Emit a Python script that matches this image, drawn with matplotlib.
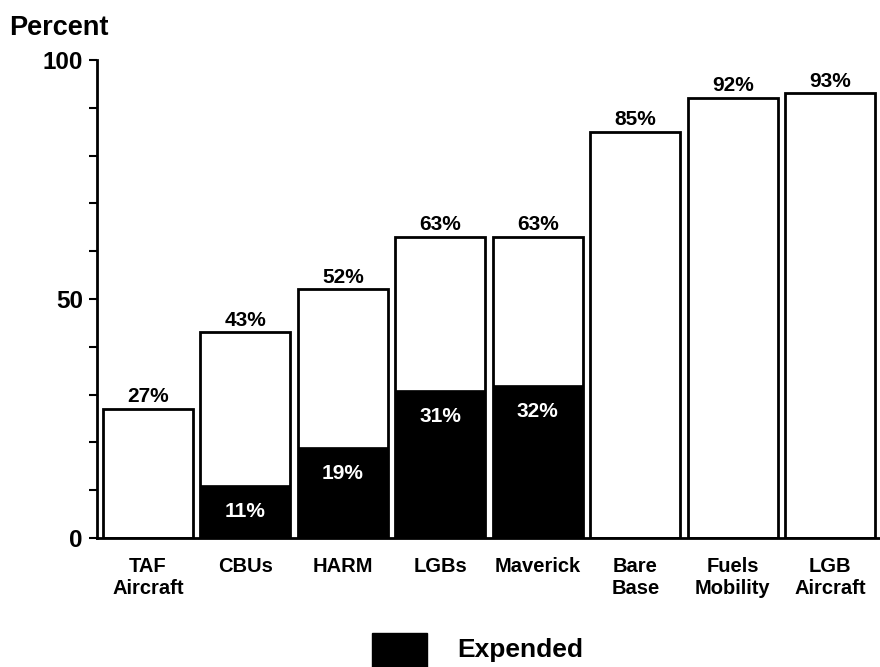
import numpy as np
import matplotlib
matplotlib.use("Agg")
import matplotlib.pyplot as plt
from matplotlib.patches import Rectangle

plt.rcParams['font.family'] = ['Liberation Sans', 'DejaVu Sans']
plt.rcParams['font.weight'] = 'bold'

# munitions / resources available vs expended
categories = ["TAF\nAircraft", "CBUs", "HARM", "LGBs", "Maverick",
              "Bare\nBase", "Fuels\nMobility", "LGB\nAircraft"]
available = [27, 43, 52, 63, 63, 85, 92, 93]
expended = [None, 11, 19, 31, 32, None, None, None]


def main():
    fig = plt.figure(figsize=(8.8, 6.67), dpi=100)
    ax = fig.add_axes([0.110, 0.1934, 0.890, 0.7166])

    x = np.arange(len(categories))
    width = 0.92

    ax.bar(x, available, width, color="white", edgecolor="black", linewidth=2, zorder=2)
    exp_x = [i for i, v in enumerate(expended) if v is not None]
    exp_v = [v for v in expended if v is not None]
    ax.bar(exp_x, exp_v, width, color="black", edgecolor="black", linewidth=0.5, zorder=3)

    for i, v in enumerate(available):
        ax.annotate(f"{v}%", (i, v), xytext=(0, 2), textcoords="offset points",
                    ha="center", va="bottom", fontsize=15, fontweight="bold")
    for i, v in zip(exp_x, exp_v):
        ax.annotate(f"{v}%", (i, v), xytext=(0, -19), textcoords="offset points",
                    ha="center", va="center", fontsize=15, fontweight="bold",
                    color="white", zorder=4)

    ax.set_xlim(-0.523, 7.51)
    ax.set_ylim(0, 100)
    ax.set_yticks(np.arange(0, 101, 10))
    ax.set_yticklabels(["0", "", "", "", "", "50", "", "", "", "", "100"])
    ax.tick_params(axis="y", direction="out", length=6, width=1.5, labelsize=17.5, pad=4)
    ax.set_xticks(x)
    ax.set_xticklabels(categories, fontsize=14.5, fontweight="bold", linespacing=1.2, va="top")
    ax.tick_params(axis="x", length=0, pad=14)
    for lbl in ax.get_yticklabels():
        lbl.set_fontweight("bold")

    for side in ("top", "right"):
        ax.spines[side].set_visible(False)
    ax.spines["left"].set_linewidth(2)
    ax.spines["bottom"].set_linewidth(2)

    fig.text(0.010, 0.958, "Percent", fontsize=19.5, fontweight="bold", ha="left", va="center")

    # legend swatch + label
    fig.patches.append(Rectangle((0.423, 0.0), 0.062, 0.051, transform=fig.transFigure,
                                 facecolor="black", edgecolor="black"))
    fig.text(0.520, 0.025, "Expended", fontsize=19, fontweight="bold", ha="left", va="center")

    fig.savefig("out.png", dpi=100)


if __name__ == '__main__':
    main()
